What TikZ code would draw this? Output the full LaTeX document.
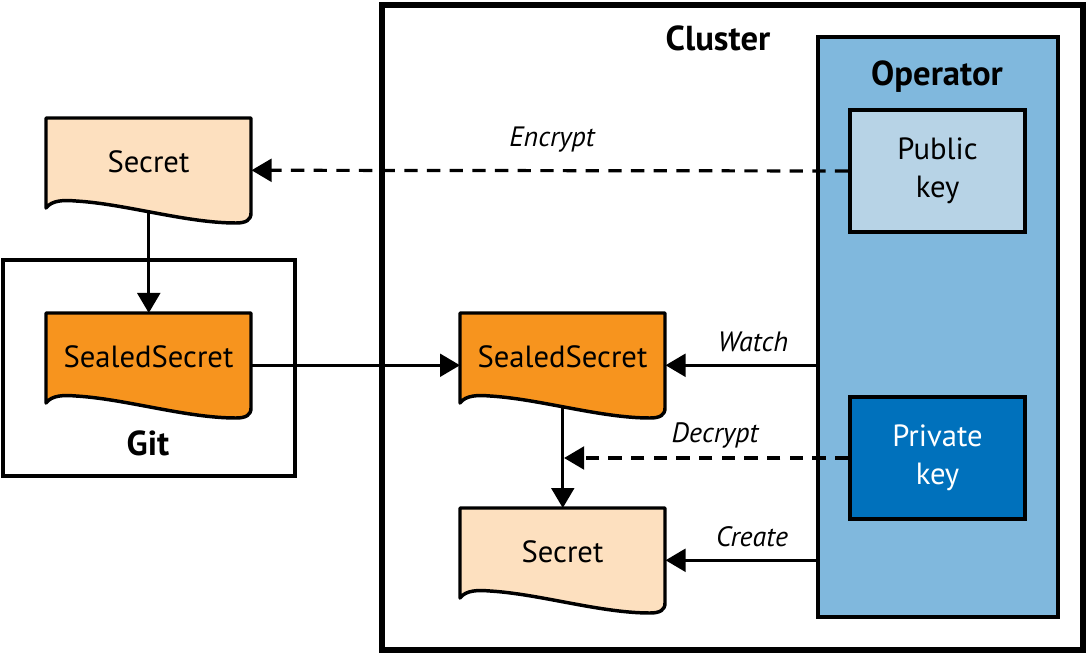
\documentclass[tikz,border=0pt]{standalone}
\usepackage{fontspec}
\setmainfont{PT Sans}
\usetikzlibrary{arrows.meta,backgrounds,calc}
\definecolor{secfill}{HTML}{FDE0BF}
\definecolor{sealfill}{HTML}{F7941E}
\definecolor{opfill}{HTML}{80B8DD}
\definecolor{pubfill}{HTML}{B7D3E6}
\definecolor{privfill}{HTML}{0071BC}
\tikzset{
  box/.style={draw=black, line width=2.6pt, rectangle, inner sep=0pt},
  frame/.style={rectangle, inner sep=0pt, minimum width=153.75pt, minimum height=78pt},
  doc/.style={draw=black, line width=2.6pt, line join=round},
  doctext/.style={font=\fontsize{23}{26}\selectfont},
  title/.style={font=\fontsize{26}{30}\selectfont\bfseries},
  lbl/.style={font=\fontsize{21}{24}\selectfont\itshape},
  arr/.style={line width=2.4pt, -{Triangle[length=15pt,width=17pt]}},
  darr/.style={arr, dash pattern=on 10pt off 7pt},
}
\newcommand{\docshape}[5]{%
  \begin{scope}[shift={(#2,#3)}]
    \path[doc, fill=#4] (0,90) .. controls (6,82) and (18,82) .. (30,83)
      .. controls (80,86) and (140,105) .. (190,105)
      .. controls (200,105) and (205,102) .. (205,95) -- (205,0) -- (0,0) -- cycle;
    \node[frame, anchor=north west] (#1) at (0,0) {};
    \node[doctext] (#1t) at (102.5,44) {#5};
  \end{scope}}
\begin{document}
\begin{tikzpicture}[x=0.75pt,y=-0.75pt]
\useasboundingbox (0,0) rectangle (1091,655);
% cluster
\node[box, line width=3.8pt, minimum width=525.75pt, minimum height=483.75pt] (cluster) at (732.5,327.5) {};
\node[title] (clusterl) at (718,38) {Cluster};
% git
\node[box, minimum width=219pt, minimum height=162pt] (git) at (149,368) {};
\node[title] (gitl) at (148,443) {Git};
% operator
\node[box, fill=opfill, minimum width=180pt, minimum height=435pt] (op) at (938,327) {};
\node[title] (opl) at (937,77) {Operator};
\node[box, fill=pubfill, minimum width=131.25pt, minimum height=91.5pt, align=center, doctext] (pub) at (937.5,171) {Public\\[2.5pt]key};
\node[box, fill=privfill, text=white, minimum width=131.25pt, minimum height=91.5pt, align=center, doctext] (priv) at (937.5,458) {Private\\[2.5pt]key};
% documents
\docshape{sec1}{46}{118}{secfill}{Secret}
\docshape{ss1}{46}{313}{sealfill}{SealedSecret}
\docshape{ss2}{460}{313}{sealfill}{SealedSecret}
\docshape{sec2}{460}{508}{secfill}{Secret}
% connectors
\begin{scope}[on background layer]
\draw[arr] (sec1.center) -- (ss1.north);
\draw[arr] (ss1.east) -- (ss2.west);
\draw[arr] (ss2.center) -- (sec2.north);
\end{scope}
\draw[darr] (pub.west) -- (sec1.east);
\draw[arr] (op.west |- ss2.east) -- (ss2.east);
\draw[arr] (op.west |- sec2.east) -- (sec2.east);
\coordinate (dec) at (ss2.south |- priv.west);
\draw[darr] (priv.west) -- ([xshift=1pt]dec);
% labels
\node[lbl] (enc) at (552,140) {Encrypt};
\node[lbl] (wat) at (753,342) {Watch};
\node[lbl] (decl) at (715,435) {Decrypt};
\node[lbl] (cre) at (752,537) {Create};
\end{tikzpicture}
\end{document}
